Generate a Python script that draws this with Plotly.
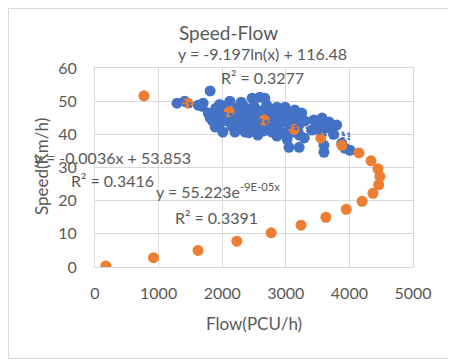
import numpy as np
import plotly.graph_objects as go

# Blue series: observed flow (PCU/h) vs speed (km/h)
blue_flow = [1290, 1410, 1620, 1700, 1810, 1680, 1780, 1810, 1890, 1850, 1900, 1950, 1970, 2010,
             2000, 2050, 2080, 2120, 2130, 2150, 2200, 2200, 2240, 2250, 2300, 2310, 2330, 2360,
             2380, 2400, 2450, 2470, 2480, 2500, 2520, 2560, 2570, 2590, 2600, 2640, 2670, 2680,
             2700, 2720, 2780, 2790, 2810, 2860, 2870, 2900, 2940, 2960, 2990, 3000, 3050, 3060,
             3080, 3100, 3140, 3160, 3200, 3210, 3210, 3250, 3290, 3300, 3410, 3440, 3500, 3570,
             3600, 3600, 3620, 3680, 3680, 3750, 3800, 3880, 3930, 4010, 3550, 2340, 2550, 2750,
             2100, 1960, 2420, 2650, 3020, 3150, 2860]
blue_speed = [49.4, 50.0, 48.8, 49.4, 53.1, 48.5, 46.4, 45.0, 42.2, 44.0, 47.9, 46.0, 43.5, 40.7,
              45.5, 48.5, 44.0, 50.0, 46.5, 42.5, 40.7, 45.0, 48.0, 43.5, 49.7, 46.0, 41.8, 40.7,
              44.5, 47.5, 42.8, 50.9, 45.5, 48.5, 41.5, 39.8, 44.0, 51.2, 47.0, 42.5, 50.9, 45.8,
              48.8, 43.2, 40.7, 46.5, 44.0, 48.2, 42.5, 45.5, 40.4, 43.8, 48.2, 46.0, 36.1, 42.0,
              44.5, 40.7, 47.3, 45.0, 43.0, 36.1, 39.8, 46.4, 38.9, 44.0, 41.3, 44.3, 43.0, 44.9,
              34.6, 36.7, 42.5, 43.7, 41.9, 40.0, 42.8, 37.3, 35.8, 35.2, 40.5, 48.5, 46.5, 47.5,
              47.0, 49.0, 40.5, 41.0, 38.5, 41.5, 39.5]

# Orange series: model curve
orange_flow = [170, 920, 1620, 2230, 2770, 3240, 3630, 3950, 4200, 4370, 4460, 4480, 4450,
               4340, 4150, 3880, 3550, 3130, 2660, 2110, 1460, 770]
orange_speed = [0.3, 2.8, 5.0, 7.8, 10.3, 12.6, 15.0, 17.4, 19.8, 22.2, 24.8, 27.3, 29.6,
                32.0, 34.4, 36.7, 38.9, 41.5, 44.3, 46.8, 49.4, 51.6]

# Trendline coefficients (as shown on the chart)
log_a, log_b = -9.197, 116.48
lin_a, lin_b = -0.0036, 53.853
exp_a, exp_b = 55.223, -9e-05

x_ticks = [0, 1000, 2000, 3000, 4000, 5000]
y_ticks = [0, 10, 20, 30, 40, 50, 60]

BLUE = "#4472C4"
ORANGE = "#ED7D31"
TXT = "#595959"
GRID = "#D9D9D9"
FONT = "Lato"

fig = go.Figure()
fig.add_trace(go.Scatter(x=blue_flow, y=blue_speed, mode="markers",
                         marker=dict(color=BLUE, size=11, line=dict(width=0)), showlegend=False))
fig.add_trace(go.Scatter(x=orange_flow, y=orange_speed, mode="markers",
                         marker=dict(color=ORANGE, size=11, line=dict(width=0)), showlegend=False))

tx = np.linspace(min(blue_flow), max(blue_flow), 200)
for ty in (log_a * np.log(tx) + log_b, lin_a * tx + lin_b, exp_a * np.exp(exp_b * tx)):
    fig.add_trace(go.Scatter(x=tx, y=ty, mode="lines",
                             line=dict(color=BLUE, width=2, dash="dot"), showlegend=False,
                             hoverinfo="skip"))

# page pixel -> paper coordinates (plot area spans page x 95..413, y 68..267)
def px(x):
    return (x - 95) / 318.0

def py(y):
    return (267 - y) / 199.0

anns = [
    ("Speed-Flow", 228, 32, 19),
    ("y = -9.197ln(x) + 116.48", 262.5, 53, 16),
    ("R² = 0.3277", 262.5, 77, 16),
    ("y = -0.0036x + 53.853", 112.5, 157, 16),
    ("R² = 0.3416", 112.5, 180, 16),
    ("y = 55.223e<sup>-9E-05x</sup>", 217.5, 190, 16),
    ("R² = 0.3391", 216, 217, 16),
    ("Flow(PCU/h)", 254, 323, 17),
]
annotations = [dict(text=t, x=px(x), y=py(y), xref="paper", yref="paper", showarrow=False,
                    xanchor="center", yanchor="middle", font=dict(family=FONT, size=s, color=TXT))
               for t, x, y, s in anns]
annotations.append(dict(text="Speed(Km/h)", x=px(41), y=py(167), xref="paper", yref="paper",
                        showarrow=False, textangle=-90, xanchor="center", yanchor="middle",
                        font=dict(family=FONT, size=17, color=TXT)))

# page has an 8px body margin, so the figure is placed at (8, 8)
fig.update_layout(
    width=448, height=354,
    margin=dict(l=87, r=43, t=60, b=95),
    paper_bgcolor="white", plot_bgcolor="white",
    font=dict(family=FONT, size=16, color=TXT),
    annotations=annotations,
    shapes=[dict(type="rect", xref="paper", yref="paper",
                 x0=px(8.5), x1=px(453.5), y0=py(358.5), y1=py(8.5),
                 line=dict(color=GRID, width=1), layer="below")],
    xaxis=dict(range=[0, 5000], tickvals=x_ticks, ticktext=[str(v) for v in x_ticks],
               showgrid=True, gridcolor=GRID, gridwidth=1, zeroline=False,
               showline=True, linecolor=GRID, mirror=True, ticks="",
               ticklabelstandoff=12, tickfont=dict(size=16, color=TXT)),
    yaxis=dict(range=[0, 60], tickvals=y_ticks, ticktext=[str(v) for v in y_ticks],
               showgrid=True, gridcolor=GRID, gridwidth=1, zeroline=False,
               showline=True, linecolor=GRID, mirror=True, ticks="",
               ticklabelstandoff=14, tickfont=dict(size=16, color=TXT)),
)

fig.write_html("out.html")
